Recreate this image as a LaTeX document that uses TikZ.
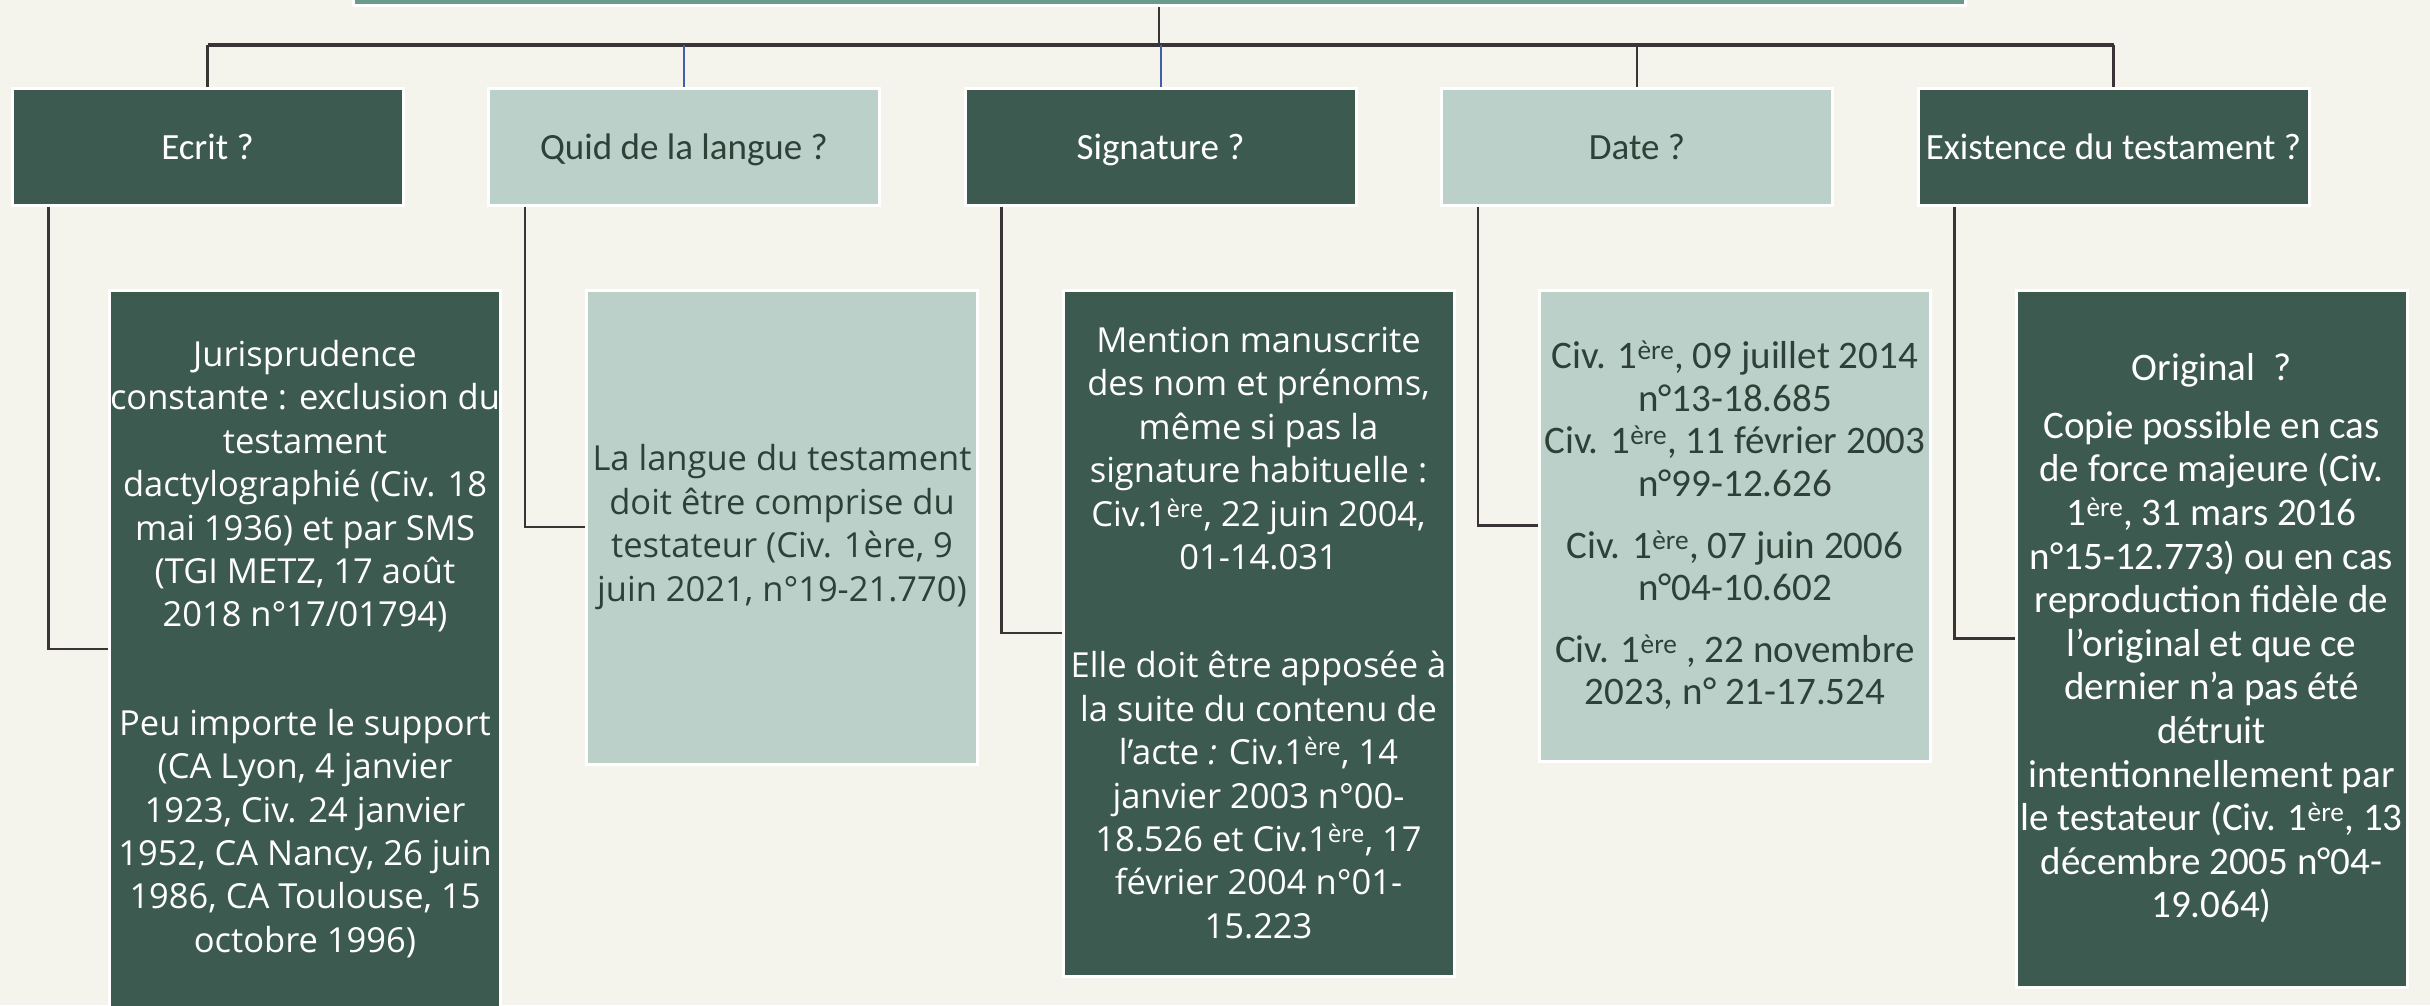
\documentclass[tikz,border=0pt]{standalone}
\usepackage{fontspec}
\setmainfont{Carlito}
\newfontfamily\wide{Open Sans}
\usetikzlibrary{calc}
\definecolor{bg}{HTML}{F4F4EC}
\definecolor{dkgreen}{HTML}{3D5A50}
\definecolor{ltgreen}{HTML}{BBD0C9}
\definecolor{topgreen}{HTML}{6A9B8A}
\definecolor{txtdark}{HTML}{2E4038}
\definecolor{linec}{HTML}{3A3436}
\definecolor{bluec}{HTML}{3F5FA8}
\begin{document}
\begin{tikzpicture}[x=1pt,y=-1pt,
  box/.style={draw=white, line width=3pt, inner sep=0pt, align=center, minimum width=391pt},
  darkbox/.style={box, fill=dkgreen, text=white},
  lightbox/.style={box, fill=ltgreen, text=txtdark},
  head/.style={minimum height=117pt, text height=26pt, text depth=0pt, font=\fontsize{37}{44}\selectfont},
  widetxt/.style={font=\wide\fontsize{34.5}{43.4}\selectfont},
  caltxt/.style={font=\fontsize{39}{42.6}\selectfont},
  caltxtb/.style={font=\fontsize{39}{43.6}\selectfont},
  conn/.style={draw=linec, line width=2.5pt},
  busline/.style={draw=linec, line width=3.5pt},
  blueconn/.style={draw=bluec, line width=2pt}]
\useasboundingbox (0,0) rectangle (2430,1005);
\clip (0,0) rectangle (2430,1005);
\fill[bg] (0,0) rectangle (2430,1005);
\node[box, fill=topgreen, minimum width=1612pt, minimum height=40pt] (top) at (1159,-15) {};
% level 1
\node[darkbox, head] (p1) at (207.5,146.5) {Ecrit ?};
\node[lightbox, head] (p2) at (684,146.5) {Quid de la langue ?};
\node[darkbox, head] (p3) at (1160.5,146.5) {Signature ?};
\node[lightbox, head] (p4) at (1637,146.5) {Date ?};
\node[darkbox, head] (p5) at (2113.5,146.5) {Existence du testament ?};
% level 2
\node[darkbox, widetxt, minimum height=718pt] (c1) at (305,649)
{Jurisprudence\\constante : exclusion du\\testament\\dactylographié (Civ. 18\\mai 1936) et par SMS\\(TGI METZ, 17 août\\2018 n°17/01794)\\[65pt]
Peu importe le support\\(CA Lyon, 4 janvier\\1923, Civ. 24 janvier\\1952, CA Nancy, 26 juin\\1986, CA Toulouse, 15\\octobre 1996)};
\node[lightbox, widetxt, minimum height=474pt] (c2) at (782,527)
{La langue du testament\\doit être comprise du\\testateur (Civ. 1ère, 9\\juin 2021, n°19-21.770)};
\node[darkbox, widetxt, minimum height=686pt] (c3) at (1258.5,633)
{Mention manuscrite\\des nom et prénoms,\\même si pas la\\signature habituelle :\\Civ.1\textsuperscript{ère}, 22 juin 2004,\\01-14.031\\[65pt]
Elle doit être apposée à\\la suite du contenu de\\l’acte \textit{:} Civ.1\textsuperscript{ère}, 14\\janvier 2003 n°00-\\18.526 et Civ.1\textsuperscript{ère}, 17\\février 2004 n°01-\\15.223};
\node[lightbox, caltxt, minimum height=471pt] (c4) at (1735,525.5)
{Civ. 1\textsuperscript{ère}, 09 juillet 2014\\n°13-18.685\\Civ. 1\textsuperscript{ère}, 11 février 2003\\n°99-12.626\\[19pt]
Civ. 1\textsuperscript{ère}, 07 juin 2006\\n°04-10.602\\[19pt]
Civ. 1\textsuperscript{ère} , 22 novembre\\2023, n° 21-17.524};
\node[darkbox, caltxtb, minimum height=697pt] (c5) at (2211.5,638.5)
{Original\ \ ?\\[14pt]
Copie possible en cas\\de force majeure (Civ.\\1\textsuperscript{ère}, 31 mars 2016\\n°15-12.773) ou en cas\\reproduction fidèle de\\l’original et que ce\\dernier n’a pas été\\détruit\\intentionnellement par\\le testateur (Civ. 1\textsuperscript{ère}, 13\\décembre 2005 n°04-\\19.064)};
% tree connectors
\coordinate (bus) at (1159,45);
\draw[conn] (top.south) -- (bus);
\draw[busline] (p1.north |- bus) -- (p5.north |- bus);
\draw[conn] (p1.north) -- (p1.north |- bus);
\draw[blueconn] (p2.north) -- (p2.north |- bus);
\draw[blueconn] (p3.north) -- (p3.north |- bus);
\draw[conn] (p4.north) -- (p4.north |- bus);
\draw[conn] (p5.north) -- (p5.north |- bus);
% elbows
\draw[conn] ($(p1.south west)+(38,0)$) |- (c1.west);
\draw[conn] ($(p2.south west)+(38,0)$) |- (c2.west);
\draw[conn] ($(p3.south west)+(38,0)$) |- (c3.west);
\draw[conn] ($(p4.south west)+(38,0)$) |- (c4.west);
\draw[conn] ($(p5.south west)+(38,0)$) |- (c5.west);
\end{tikzpicture}
\end{document}
